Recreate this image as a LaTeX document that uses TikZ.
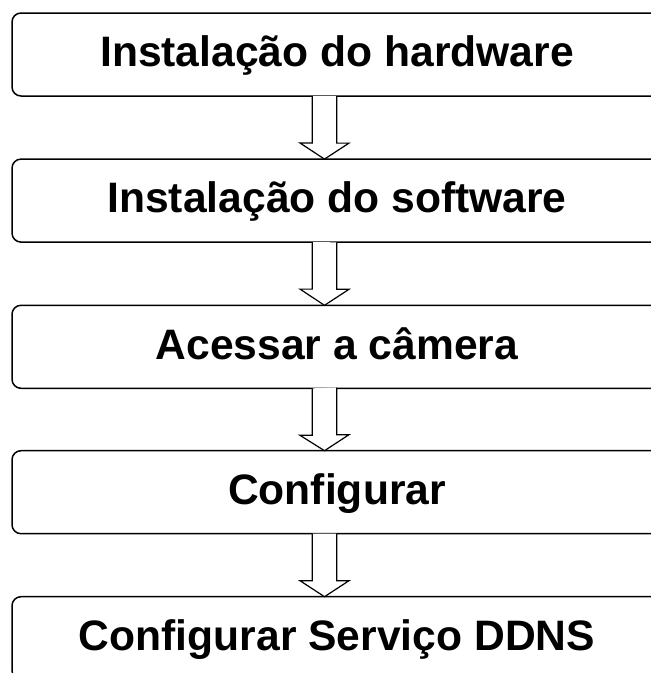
\documentclass[tikz,border=0pt]{standalone}
\usepackage{fontspec}
\setmainfont{Liberation Sans}
\usetikzlibrary{calc}
\begin{document}
\begin{tikzpicture}[x=1pt,y=-1pt,
  stepbox/.style={draw=black, line width=1.5pt, rounded corners=9pt, minimum width=650pt, minimum height=83pt, inner sep=0pt, outer sep=0pt, text height=30pt, text depth=5.6pt, font=\bfseries\fontsize{42.6}{50}\selectfont},
  blockarrow/.style={draw=black, line width=1.2pt, fill=white, line join=miter}]
\useasboundingbox (0,0) rectangle (651,673);
\clip (0,0) rectangle (651,673);
\node[stepbox] (b1) at (337,54.5) {Instalação do hardware};
\node[stepbox] (b2) at (337,200.6) {Instalação do software};
\node[stepbox] (b3) at (337,346.8) {Acessar a câmera};
\node[stepbox] (b4) at (337,492.2) {Configurar};
\node[stepbox] (b5) at (337,638.2) {Configurar Serviço DDNS};
\foreach \a/\b in {b1/b2,b2/b3,b3/b4,b4/b5}{
  \path (\a.south) ++(-12.5,0) coordinate (t);
  \draw[blockarrow] (t) ++(-12.2,0) -- ++(0,47) -- ++(-12.3,0) -- (t |- \b.north) -- ++(24.5,-16) -- ++(-12.3,0) -- ++(0,-47);
}
\end{tikzpicture}
\end{document}
